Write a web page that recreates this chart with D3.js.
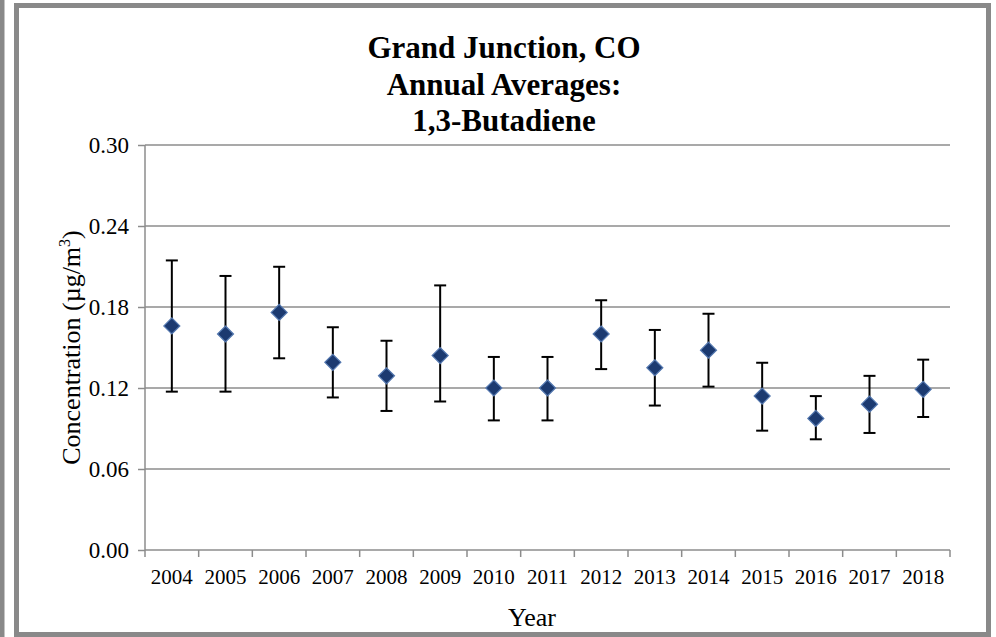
<!DOCTYPE html>
<html><head><meta charset="utf-8">
<script src="https://cdn.jsdelivr.net/npm/d3@7"></script>
<style>html,body{margin:0;padding:0;background:#fff;}svg{display:block;}</style>
</head><body>
<script>
const years = ["2004","2005","2006","2007","2008","2009","2010","2011","2012","2013","2014","2015","2016","2017","2018"];
const means = [0.166,0.160,0.176,0.139,0.129,0.144,0.120,0.120,0.160,0.135,0.148,0.114,0.0975,0.108,0.119];
const upper = [0.2145,0.203,0.2098,0.165,0.155,0.196,0.143,0.143,0.185,0.163,0.175,0.1387,0.114,0.129,0.141];
const lower = [0.1173,0.1173,0.142,0.113,0.103,0.110,0.096,0.096,0.134,0.107,0.121,0.0884,0.082,0.0867,0.0985];
const yTicks = [0,0.06,0.12,0.18,0.24,0.30];
const titleLines = ["Grand Junction, CO","Annual Averages:","1,3-Butadiene"];

const W=996,H=637;
const svg=d3.select("body").append("svg").attr("width",W).attr("height",H);
svg.append("rect").attr("width",W).attr("height",H).attr("fill","#fff");
// left strip
svg.append("rect").attr("x",0).attr("y",0).attr("width",4.5).attr("height",H).attr("fill","#898989");
// frame
svg.append("rect").attr("x",16.5).attr("y",5.5).attr("width",972).attr("height",629)
  .attr("fill","none").attr("stroke","#898989").attr("stroke-width",5);

const m={l:145,r:950,t:145,b:550};
const x=d3.scaleBand().domain(years).range([m.l,m.r]).padding(0);
const y=d3.scaleLinear().domain([0,0.30]).range([m.b,m.t]);
const font="'Liberation Serif','Times New Roman',serif";

// gridlines
svg.append("g").selectAll("line").data(yTicks.filter(d=>d>0)).join("line")
  .attr("x1",m.l).attr("x2",m.r).attr("y1",d=>y(d)).attr("y2",d=>y(d))
  .attr("stroke","#8c8c8c").attr("stroke-width",1.5);

// y axis
const yAxis=svg.append("g").attr("transform",`translate(${m.l},0)`)
  .call(d3.axisLeft(y).tickValues(yTicks).tickFormat(d3.format(".2f")).tickSize(7).tickPadding(9));
yAxis.select(".domain").attr("stroke","#8c8c8c").attr("stroke-width",1.5).attr("d",`M0,${m.b}V${m.t}`);
yAxis.selectAll(".tick line").attr("stroke","#8c8c8c").attr("stroke-width",1.5);
yAxis.selectAll("text").attr("font-family",font).attr("font-size",23).attr("fill","#000");

// x axis
const xAxis=svg.append("g").attr("transform",`translate(0,${m.b})`)
  .call(d3.axisBottom(x).tickSize(0).tickPadding(19));
xAxis.select(".domain").attr("stroke","#8c8c8c").attr("stroke-width",1.5).attr("d",`M${m.l},0H${m.r}`);
xAxis.selectAll("text").attr("font-family",font).attr("font-size",21).attr("fill","#000");
// boundary tick marks
const bounds=years.map(d=>x(d)).concat([m.r]);
xAxis.append("g").selectAll("line").data(bounds).join("line")
  .attr("x1",d=>d).attr("x2",d=>d).attr("y1",0).attr("y2",7)
  .attr("stroke","#8c8c8c").attr("stroke-width",1.5);

// error bars
const eb=svg.append("g").attr("stroke","#000").attr("stroke-width",2);
years.forEach((yr,i)=>{
  const cx=x(yr)+x.bandwidth()/2;
  eb.append("line").attr("x1",cx).attr("x2",cx).attr("y1",y(upper[i])).attr("y2",y(lower[i]));
  eb.append("line").attr("x1",cx-6).attr("x2",cx+6).attr("y1",y(upper[i])).attr("y2",y(upper[i]));
  eb.append("line").attr("x1",cx-6).attr("x2",cx+6).attr("y1",y(lower[i])).attr("y2",y(lower[i]));
});
// markers
svg.append("g").selectAll("path").data(years).join("path")
  .attr("transform",(d,i)=>`translate(${x(d)+x.bandwidth()/2},${y(means[i])})`)
  .attr("d","M0,-8L8,0L0,8L-8,0Z")
  .attr("fill","#1c3a70").attr("stroke","#5478b0").attr("stroke-width",1.2);

// title
svg.append("g").selectAll("text").data(titleLines).join("text")
  .attr("x",504).attr("y",(d,i)=>58+i*36.5).attr("text-anchor","middle")
  .attr("font-family",font).attr("font-weight","bold").attr("font-size",31).attr("fill","#000")
  .text(d=>d);

// y label
const yl=svg.append("text").attr("transform",`translate(80,${(m.t+m.b)/2}) rotate(-90)`)
  .attr("text-anchor","middle").attr("font-family",font).attr("font-size",26).attr("fill","#000");
yl.append("tspan").text("Concentration  (µg/m");
yl.append("tspan").attr("font-size",16).attr("dy",-10).text("3");
yl.append("tspan").attr("dy",10).text(")");

// x label
svg.append("text").attr("x",532).attr("y",626).attr("text-anchor","middle")
  .attr("font-family",font).attr("font-size",26).attr("fill","#000").text("Year");
</script>
</body></html>
